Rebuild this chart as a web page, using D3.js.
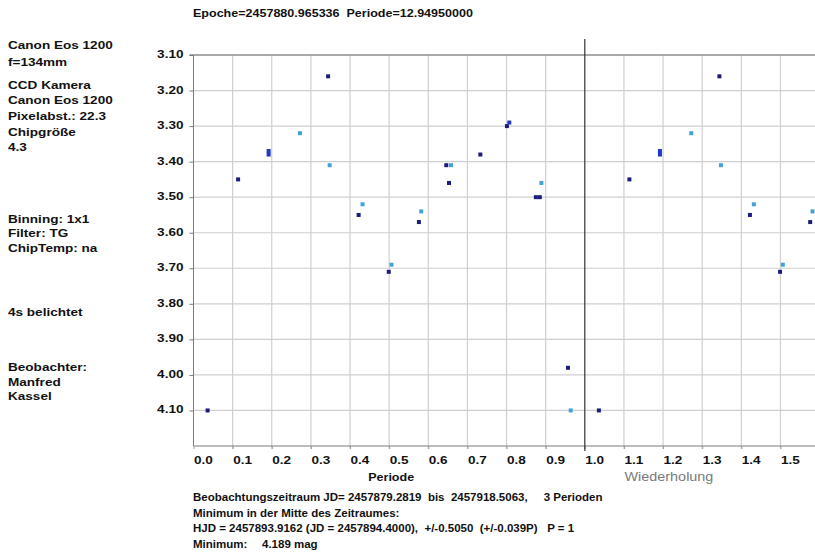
<!DOCTYPE html>
<html>
<head>
<meta charset="utf-8">
<script src="https://cdn.jsdelivr.net/npm/d3@7"></script>
<style>
  html, body { margin: 0; padding: 0; background: #fff; }
  svg { display: block; }
  text { font-family: "Liberation Sans", Arial, sans-serif; white-space: pre; }
</style>
</head>
<body>
<svg id="chart" width="815" height="555"></svg>
<script>
// Phase-folded light curve (magnitudes), three observation periods
const phaseA = [0.036, 0.114, 0.344, 0.422, 0.499, 0.576, 0.646, 0.653, 0.733, 0.801, 0.875, 0.885, 0.957];
const magA   = [4.10, 3.45, 3.16, 3.55, 3.71, 3.57, 3.41, 3.46, 3.38, 3.30, 3.50, 3.50, 3.98];
const phaseB = [0.192, 0.192, 0.807];
const magB   = [3.37, 3.38, 3.29];
const phaseC = [0.272, 0.348, 0.432, 0.506, 0.582, 0.658, 0.889, 0.964];
const magC   = [3.32, 3.41, 3.52, 3.69, 3.54, 3.41, 3.46, 4.10];

const seriesColors = ["#1b1b7e", "#2436c4", "#45a2d9"];

const xTicks = [0.0, 0.1, 0.2, 0.3, 0.4, 0.5, 0.6, 0.7, 0.8, 0.9, 1.0, 1.1, 1.2, 1.3, 1.4, 1.5];
const yTicks = [3.10, 3.20, 3.30, 3.40, 3.50, 3.60, 3.70, 3.80, 3.90, 4.00, 4.10];

const titleText = "Epoche=2457880.965336  Periode=12.94950000";
const infoLines = [
  ["Canon Eos 1200", 46], ["f=134mm", 63],
  ["CCD Kamera", 86], ["Canon Eos 1200", 101], ["Pixelabst.: 22.3", 117], ["Chipgröße", 133], ["4.3", 148],
  ["Binning: 1x1", 220], ["Filter: TG", 234], ["ChipTemp: na", 249],
  ["4s belichtet", 313],
  ["Beobachter:", 368], ["Manfred", 383], ["Kassel", 397]
];
const footerLines = [
  "Beobachtungszeitraum JD= 2457879.2819  bis  2457918.5063,     3 Perioden",
  "Minimum in der Mitte des Zeitraumes:",
  "HJD = 2457893.9162 (JD = 2457894.4000),  +/-0.5050  (+/-0.039P)   P = 1"
];

const svg = d3.select("#chart");

// lettering helper: sx stretches the glyphs horizontally around the anchor
function label(parent, x, y, str, o = {}) {
  const sx = o.sx || 1.18;
  const g = parent.append("g").attr("transform", `translate(${x},${y}) scale(${sx},1)`);
  return g.append("text")
    .attr("dominant-baseline", "middle")
    .attr("text-anchor", o.anchor || "start")
    .attr("font-size", o.size || 11.5)
    .attr("font-weight", o.weight || "bold")
    .attr("fill", o.fill || "#111")
    .text(str);
}

const x = d3.scaleLinear().domain([0, 1.6]).range([193.5, 193.5 + 1.6 * 391.3]);
const y = d3.scaleLinear().domain([3.10, 4.20]).range([55, 446]);
const plotBottom = y(4.20);

// grid
const grid = svg.append("g");
grid.selectAll("line.v").data(xTicks.filter(t => t > 0 && t !== 1.0)).join("line")
  .attr("x1", d => x(d)).attr("x2", d => x(d))
  .attr("y1", y(3.10)).attr("y2", plotBottom + 3)
  .attr("stroke", "#cfcfcf").attr("stroke-width", 1.2);
grid.selectAll("line.h").data(yTicks.filter(t => t > 3.10)).join("line")
  .attr("x1", x(0)).attr("x2", 815)
  .attr("y1", d => y(d)).attr("y2", d => y(d))
  .attr("stroke", "#cfcfcf").attr("stroke-width", 1.2);

// top border at 3.10
svg.append("line").attr("x1", x(0) - 4).attr("x2", 815)
  .attr("y1", y(3.10)).attr("y2", y(3.10))
  .attr("stroke", "#8c8c8c").attr("stroke-width", 1.6);

// y axis
const yAxis = svg.append("g").attr("transform", `translate(${x(0)},0)`)
  .call(d3.axisLeft(y).tickValues(yTicks).tickSize(4).tickFormat(""));
yAxis.select(".domain").attr("stroke", "#7a7a7a").attr("d", `M0,${y(3.10)}V${plotBottom}`);
yAxis.selectAll(".tick line").attr("stroke", "#7a7a7a");
yTicks.forEach(t => label(svg, x(0) - 10, y(t), d3.format(".2f")(t), { anchor: "end" }));

// x axis
const xAxis = svg.append("g").attr("transform", `translate(0,${plotBottom})`)
  .call(d3.axisBottom(x).tickValues(xTicks).tickSize(3).tickFormat(""));
xAxis.select(".domain").attr("stroke", "#7a7a7a").attr("d", `M${x(0)},0H815`);
xAxis.selectAll(".tick line").attr("stroke", "#9a9a9a");
xTicks.forEach(t => label(svg, x(t) + 0.5, plotBottom + 15, d3.format(".1f")(t)));

// repetition divider at phase 1.0
svg.append("line").attr("x1", x(1)).attr("x2", x(1))
  .attr("y1", 39).attr("y2", plotBottom + 5)
  .attr("stroke", "#333").attr("stroke-width", 1.2);

// points, drawn for phase and repeated one period later
const series = [[phaseA, magA], [phaseB, magB], [phaseC, magC]];
const pts = [];
series.forEach(([ph, mg], si) => {
  ph.forEach((p, i) => {
    pts.push({ p, m: mg[i], si });
    if (p + 1 <= 1.6) pts.push({ p: p + 1, m: mg[i], si });
  });
});
svg.append("g").selectAll("rect").data(pts).join("rect")
  .attr("x", d => x(d.p) - 2).attr("y", d => y(d.m) - 2)
  .attr("width", 4).attr("height", 4)
  .attr("fill", d => seriesColors[d.si]);

// titles and notes
label(svg, 193, 14, titleText, { sx: 1.09 });
label(svg, x(0.5) + 2, 478, "Periode", { anchor: "middle", sx: 1.09 });
label(svg, x(1.215), 478, "Wiederholung", { anchor: "middle", fill: "#7a7a7a", weight: "normal", size: 12, sx: 1.2 });
infoLines.forEach(([s, yy]) => label(svg, 8, yy, s));
footerLines.forEach((s, i) => label(svg, 193, 498 + i * 15.5, s, { sx: 1.0 }));
label(svg, 193, 545, "Minimum:", { sx: 1.0 });
label(svg, 262, 545, "4.189 mag", { sx: 1.0 });
</script>
</body>
</html>
